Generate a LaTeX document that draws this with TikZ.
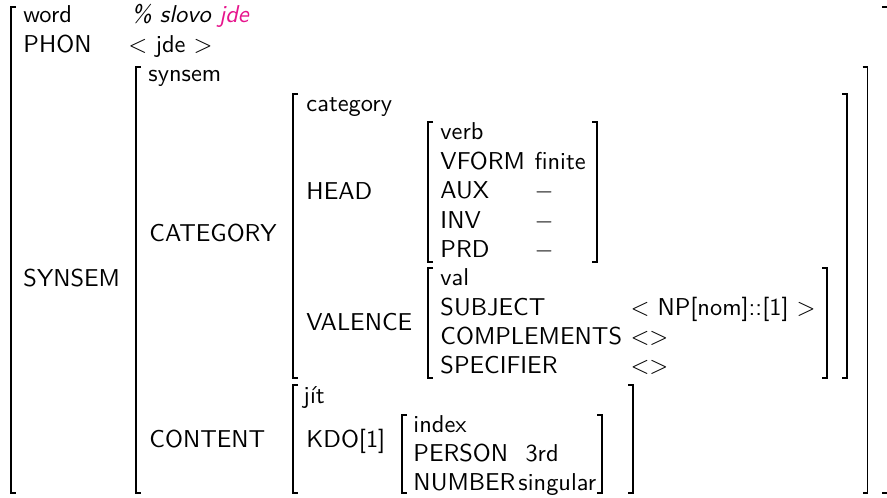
\documentclass[tikz,border=0pt]{standalone}
\usepackage{xcolor}
\definecolor{hotpink}{RGB}{230,20,140}
\begin{document}
\begin{tikzpicture}[x=0.41pt,y=-0.41pt,
  lbl/.style={anchor=base west,inner sep=0pt,font=\sffamily},
  brk/.style={line width=0.55pt}]
\useasboundingbox (0,0) rectangle (887,497);
% brackets
\draw[brk] (16,7) -- (11,7) -- (11,493) -- (16,493);
\draw[brk] (882,7) -- (887.3,7) -- (887.3,493) -- (882,493);
\draw[brk] (141,67) -- (136,67) -- (136,493) -- (141,493);
\draw[brk] (862.5,67) -- (867.5,67) -- (867.5,493) -- (862.5,493);
\draw[brk] (298,94) -- (293,94) -- (293,378) -- (298,378);
\draw[brk] (842,94) -- (847,94) -- (847,378) -- (842,378);
\draw[brk] (433,122) -- (428,122) -- (428,262) -- (433,262);
\draw[brk] (592,122) -- (597,122) -- (597,262) -- (592,262);
\draw[brk] (433,268) -- (428,268) -- (428,378) -- (433,378);
\draw[brk] (822,268) -- (827,268) -- (827,378) -- (822,378);
\draw[brk] (298,385) -- (293,385) -- (293,493) -- (298,493);
\draw[brk] (628,385) -- (633,385) -- (633,493) -- (628,493);
\draw[brk] (407,415) -- (402,415) -- (402,493) -- (407,493);
\draw[brk] (597,415) -- (602,415) -- (602,493) -- (597,493);
% texts
\node[lbl] (word) at (23,22.5) {word};
\node[lbl] (comment) at (131,22.5) {\itshape \% slovo \textcolor{hotpink}{jde}};
\node[lbl] (phon) at (23,52.7) {PHON};
\node[lbl] (phonv) at (128,52.7) {$<$ jde $>$};
\node[lbl] (synsemt) at (148,81.7) {synsem};
\node[lbl] (synsem) at (23,286) {SYNSEM};
\node[lbl] (catt) at (306,111.5) {category};
\node[lbl] (cat) at (149,241.7) {CATEGORY};
\node[lbl] (head) at (306,199.3) {HEAD};
\node[lbl] (verb) at (440,139.3) {verb};
\node[lbl] (vform) at (440,169.3) {VFORM};
\node[lbl] (vformv) at (534,169.3) {finite};
\node[lbl] (aux) at (440,198.3) {AUX};
\node[lbl] (auxv) at (534,198.3) {$-$};
\node[lbl] (inv) at (440,228) {INV};
\node[lbl] (invv) at (534,228) {$-$};
\node[lbl] (prd) at (440,257) {PRD};
\node[lbl] (prdv) at (534,257) {$-$};
\node[lbl] (valence) at (306,330) {VALENCE};
\node[lbl] (val) at (440,285) {val};
\node[lbl] (subj) at (440,315) {SUBJECT};
\node[lbl] (subjv) at (630,315) {$<$ NP[nom]::[1] $>$};
\node[lbl] (comps) at (440,344.3) {COMPLEMENTS};
\node[lbl] (compsv) at (630,344.3) {$<>$};
\node[lbl] (spec) at (440,373.3) {SPECIFIER};
\node[lbl] (specv) at (630,373.3) {$<>$};
\node[lbl] (content) at (149,447.3) {CONTENT};
\node[lbl] (jit) at (303,403.3) {jít};
\node[lbl] (kdo) at (306,447.3) {KDO[1]};
\node[lbl] (index) at (413,432.3) {index};
\node[lbl] (person) at (413,461.7) {PERSON};
\node[lbl] (personv) at (525,461.7) {3rd};
\node[lbl] (number) at (413,490) {NUMBER};
\node[lbl] (numberv) at (518,490) {singular};
\end{tikzpicture}
\end{document}
